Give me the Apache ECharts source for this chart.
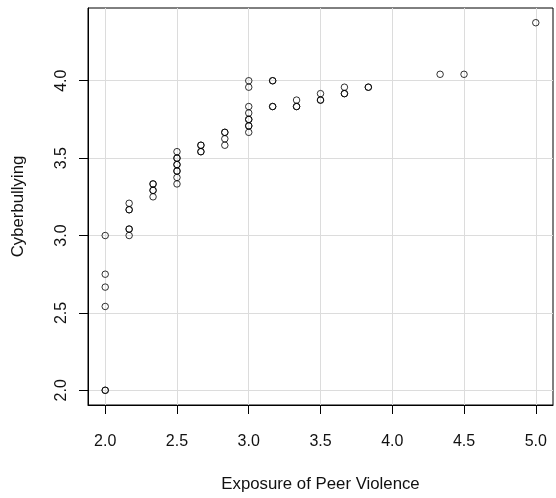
<!DOCTYPE html>
<html>
<head>
<meta charset="utf-8">
<script src="https://cdn.jsdelivr.net/npm/echarts@6/dist/echarts.min.js"></script>
<style>html,body{margin:0;padding:0;background:#fff}#c{width:556px;height:498px}</style>
</head>
<body>
<div id="c"></div>
<script>
const exposure = [
  2.0, 2.0, 2.0, 2.0, 2.0, 2.0,
  2.1667, 2.1667, 2.1667, 2.1667, 2.1667, 2.1667,
  2.3333, 2.3333, 2.3333, 2.3333, 2.3333,
  2.5, 2.5, 2.5, 2.5, 2.5, 2.5, 2.5, 2.5, 2.5,
  2.6667, 2.6667, 2.6667, 2.6667,
  2.8333, 2.8333, 2.8333, 2.8333,
  3.0, 3.0, 3.0, 3.0, 3.0, 3.0, 3.0, 3.0, 3.0,
  3.1667, 3.1667, 3.1667, 3.1667,
  3.3333, 3.3333, 3.3333,
  3.5, 3.5, 3.5,
  3.6667, 3.6667, 3.6667,
  3.8333, 3.8333,
  4.3333, 4.5, 5.0
];
const cyberbullying = [
  2.0, 2.0, 2.5417, 2.6667, 2.75, 3.0,
  3.0, 3.0417, 3.0417, 3.1667, 3.1667, 3.2083,
  3.25, 3.2917, 3.2917, 3.3333, 3.3333,
  3.3333, 3.375, 3.4167, 3.4583, 3.4583, 3.5, 3.5, 3.5417, 3.4167,
  3.5417, 3.5417, 3.5833, 3.5833,
  3.5833, 3.625, 3.6667, 3.6667,
  3.6667, 3.7083, 3.75, 3.75, 3.7917, 3.8333, 3.9583, 4.0, 3.7083,
  3.8333, 3.8333, 4.0, 4.0,
  3.8333, 3.8333, 3.875,
  3.875, 3.875, 3.9167,
  3.9167, 3.9167, 3.9583,
  3.9583, 3.9583,
  4.0417, 4.0417, 4.375
];
const xTicks = [2.0, 2.5, 3.0, 3.5, 4.0, 4.5, 5.0];
const yTicks = [2.0, 2.5, 3.0, 3.5, 4.0];
const xTitle = 'Exposure of Peer Violence';
const yTitle = 'Cyberbullying';

const points = exposure.map((x, i) => [x, cyberbullying[i]]);
const font = "'Liberation Sans', Arial, Helvetica, sans-serif";
const chart = echarts.init(document.getElementById('c'), null, {renderer: 'canvas'});
chart.setOption({
  animation: false,
  backgroundColor: '#ffffff',
  grid: {left: 88, right: 3, top: 8, bottom: 89, show: true, borderColor: '#000', borderWidth: 1, containLabel: false},
  xAxis: {
    type: 'value', min: 1.88, max: 5.12,
    name: xTitle, nameLocation: 'middle', nameGap: 71,
    nameTextStyle: {fontFamily: font, fontSize: 16.8, color: '#111'},
    axisLine: {show: true, onZero: false, lineStyle: {color: '#000', width: 1}},
    axisTick: {show: true, length: 9, customValues: xTicks, lineStyle: {color: '#000'}},
    axisLabel: {customValues: xTicks, margin: 29, fontFamily: font, fontSize: 16, color: '#111',
      formatter: v => v.toFixed(1)},
    splitLine: {show: true, lineStyle: {color: '#dcdcdc', width: 1}}
  },
  yAxis: {
    type: 'value', min: 1.905, max: 4.47,
    name: yTitle, nameLocation: 'middle', nameGap: 61, nameRotate: 90,
    nameTextStyle: {fontFamily: font, fontSize: 16.8, color: '#111'},
    axisLine: {show: true, onZero: false, lineStyle: {color: '#000', width: 1}},
    axisTick: {show: true, length: 9, customValues: yTicks, lineStyle: {color: '#000'}},
    axisLabel: {customValues: yTicks, rotate: 90, margin: 18, fontFamily: font, fontSize: 16, color: '#111',
      formatter: v => v.toFixed(1)},
    splitLine: {show: true, lineStyle: {color: '#dcdcdc', width: 1}}
  },
  series: [{
    type: 'scatter',
    data: points,
    symbol: 'circle',
    symbolSize: 6.5,
    itemStyle: {color: 'rgba(0,0,0,0)', borderColor: '#000', borderWidth: 1}
  }]
});
</script>
</body>
</html>
